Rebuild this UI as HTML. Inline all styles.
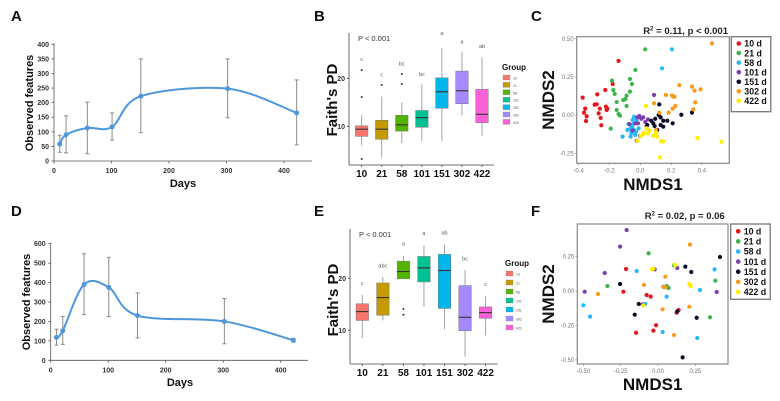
<!DOCTYPE html>
<html><head><meta charset="utf-8"><style>
html,body{margin:0;padding:0;background:#fff;}
svg{display:block;font-family:"Liberation Sans",Arial,sans-serif;}
</style></head><body>
<svg id="fig" width="780" height="401" viewBox="0 0 780 401" xmlns="http://www.w3.org/2000/svg">
<rect width="780" height="401" fill="#fff"/>
<g font-weight="bold" font-size="15" fill="#111">
<text x="11" y="21">A</text>
<text x="314" y="21">B</text>
<text x="531" y="21">C</text>
<text x="11" y="216">D</text>
<text x="314" y="216">E</text>
<text x="531" y="216">F</text>
</g>
</svg>
<script>
// ---------- data: line panels ----------
const daysA = [10, 21, 58, 101, 151, 302, 422];
const meanA = [58, 90, 113, 117, 222, 248, 165];
const lowA = [30, 28, 25, 72, 97, 148, 55];
const highA = [88, 155, 202, 165, 350, 350, 278];
const yTicksA = [0, 50, 100, 150, 200, 250, 300, 350, 400];
const xTicksA = [0, 100, 200, 300, 400];
const daysD = [10, 21, 58, 101, 151, 302, 422];
const meanD = [118, 152, 390, 375, 230, 200, 103];
const lowD = [78, 82, 235, 225, 115, 85, 93];
const highD = [160, 225, 548, 530, 347, 318, 113];
const yTicksD = [0, 100, 200, 300, 400, 500, 600];
const xTicksD = [0, 100, 200, 300, 400];
// ---------- data: box panels ----------
const groups = ["10", "21", "58", "101", "151", "302", "422"];
const boxColors = ["#F8766D", "#C49A00", "#53B400", "#00C094", "#00B6EB", "#A58AFF", "#FB61D7"];
const minB = [6.0, 3.5, 6.5, 6.9, 6.9, 12.3, 8.0];
const q1B = [7.9, 7.3, 9.0, 9.8, 13.75, 14.7, 10.75];
const medB = [9.4, 9.4, 10.3, 11.8, 17.2, 17.4, 12.5];
const q3B = [10.1, 11.25, 12.3, 13.3, 20.1, 21.5, 17.7];
const maxB = [12.4, 16.2, 15.0, 18.75, 26.25, 25.5, 24.4];
const outB = [[16.1, 21.7, 3.2], [18.6], [18.8, 20.9], [], [], [], []];
const letB = ["c", "c", "bc", "bc", "a", "a", "ab"];
const letPosB = [24.0, 20.8, 23.1, 20.9, 29.4, 27.7, 26.7];
const minE = [8.5, 11.9, 19.9, 14.5, 10.2, 4.9, 9.0];
const q1E = [11.9, 12.9, 19.9, 19.3, 14.2, 9.9, 12.3];
const medE = [13.6, 16.3, 21.3, 22.0, 21.5, 12.5, 13.4];
const q3E = [15.1, 19.1, 23.3, 24.2, 24.6, 18.6, 14.5];
const maxE = [16.8, 20.25, 24.3, 26.3, 26.5, 21.6, 16.6];
const outE = [[], [], [14.1, 13.0], [], [], [], []];
const letE = ["c", "abc", "a", "a", "ab", "bc", "c"];
const letPosE = [19.1, 22.5, 26.7, 28.7, 28.8, 23.8, 18.9];
// ---------- data: NMDS panels ----------
const nmdsGroups = ["10 d", "21 d", "58 d", "101 d", "151 d", "302 d", "422 d"];
const nmdsColors = ["#e8141b", "#3bb44a", "#27b8f5", "#7e3fb0", "#0c0c2a", "#f99a1d", "#ffee00"];
const c10x = [-0.374,-0.357,-0.365,-0.348,-0.352,-0.296,-0.283,-0.279,-0.270,-0.262,-0.257,-0.253,-0.227,-0.223,-0.218,-0.214,-0.179,-0.141];
const c10y = [0.115,0.043,0.017,-0.007,-0.038,0.069,0.071,0.136,0.012,0.043,-0.018,-0.066,0.165,0.056,0.034,0.043,0.204,0.355];
const c21x = [0.032,-0.032,-0.067,-0.054,-0.184,-0.175,-0.166,-0.153,-0.141,-0.132,-0.110,-0.097,-0.089,-0.067,-0.089,-0.153,-0.192];
const c21y = [0.431,0.296,0.237,0.204,0.226,0.165,0.139,0.086,0.008,-0.003,0.099,0.106,0.128,0.154,0.060,0.034,-0.088];
const c58x = [0.205,0.141,-0.115,-0.067,-0.054,-0.045,-0.037,-0.058,-0.032,-0.024,-0.076,-0.050,-0.041,-0.063,-0.028,-0.011,-0.084,-0.045,-0.058];
const c58y = [0.431,0.306,-0.140,-0.092,-0.075,-0.058,-0.101,-0.119,-0.129,-0.031,-0.058,-0.031,-0.010,-0.140,-0.108,-0.086,-0.097,-0.092,-0.075];
const c101x = [0.089,-0.019,-0.006,0.006,0.019,0.032,-0.015,-0.032,-0.071,-0.002,-0.024,-0.050,0.041,0.050];
const c101y = [0.132,-0.014,-0.005,-0.023,-0.014,-0.044,-0.053,-0.053,-0.058,-0.136,-0.167,-0.101,-0.071,-0.027];
const c151x = [0.123,0.119,0.132,0.097,0.071,0.084,0.045,0.093,0.149,0.175,0.210,0.149,0.266,0.335,0.110,0.132];
const c151y = [0.071,0.001,-0.014,-0.023,-0.036,-0.053,-0.064,-0.071,-0.036,-0.036,-0.053,-0.075,0.003,0.017,-0.097,-0.064];
const c302x = [0.465,0.253,0.335,0.352,0.391,0.356,0.344,0.166,0.205,0.214,0.227,0.210,0.123,0.184,0.102,0.089,0.222];
const c302y = [0.470,0.197,0.187,0.161,0.169,0.084,0.038,0.132,0.130,0.121,0.060,0.043,0.017,0.017,-0.097,0.078,0.121];
const c422x = [0.037,0.041,0.058,0.024,0.002,0.019,0.050,0.084,0.102,0.110,0.136,0.149,0.128,0.370,0.527,-0.019];
const c422y = [0.060,-0.086,-0.101,-0.114,-0.136,-0.123,-0.119,-0.134,-0.114,-0.140,-0.171,-0.171,-0.276,-0.149,-0.173,-0.167];
const f10x = [-0.214,-0.232,-0.076,-0.049,-0.147,-0.013,-0.031,0.125,0.138];
const f10y = [0.160,-0.005,-0.029,-0.041,-0.303,-0.249,-0.288,-0.157,-0.138];
const f21x = [-0.063,-0.339,0.036,0.071,0.107,0.384,0.348,0.058];
const f21y = [0.274,0.036,0.031,0.022,0.186,0.075,-0.191,0.036];
const f58x = [-0.143,-0.500,-0.455,0.058,-0.085,0.031,0.263,0.281,0.379];
const f58y = [0.145,-0.104,-0.186,-0.041,-0.094,-0.298,-0.341,0.007,0.157];
const f101x = [-0.210,-0.254,-0.357,-0.491,0.393,0.129,-0.022,-0.103];
const f101y = [0.443,0.322,0.131,-0.005,-0.007,0.167,0.157,-0.097];
const f151x = [-0.254,-0.129,-0.156,0.129,0.183,0.223,0.259,0.415,0.165];
const f151y = [0.051,-0.094,-0.172,-0.148,0.177,0.138,-0.194,0.247,-0.482];
const f302x = [0.214,-0.094,-0.402,0.049,0.049,0.031,0.107,0.210,0.040];
const f302y = [0.337,0.044,-0.022,0.104,0.027,-0.133,-0.320,-0.114,0.030];
const f422x = [-0.031,0.116,0.210,0.219,-0.098,-0.040,0.112];
const f422y = [0.162,0.186,0.051,0.036,-0.104,0.157,0.192];
const cTicksX = [-0.4, -0.2, 0.0, 0.2, 0.4];
const cTicksY = [-0.25, 0.00, 0.25, 0.50];
const fTicksX = [-0.50, -0.25, 0.00, 0.25];
const fTicksY = [-0.50, -0.25, 0.00, 0.25];

const NS = "http://www.w3.org/2000/svg";
const svg = document.getElementById("fig");
function mk(tag, attrs, parent) {
  const e = document.createElementNS(NS, tag);
  for (const k in attrs) e.setAttribute(k, attrs[k]);
  (parent || svg).appendChild(e);
  return e;
}
function txt(s, attrs, parent) { const t = mk("text", attrs, parent); t.textContent = s; return t; }
function lin(d0, d1, r0, r1) { return v => r0 + (v - d0) * (r1 - r0) / (d1 - d0); }
function catmull(pts) {
  let d = "M" + pts[0][0] + "," + pts[0][1];
  for (let i = 0; i < pts.length - 1; i++) {
    const p0 = pts[i - 1] || pts[i], p1 = pts[i], p2 = pts[i + 1], p3 = pts[i + 2] || p2;
    const c1 = [p1[0] + (p2[0] - p0[0]) / 6, p1[1] + (p2[1] - p0[1]) / 6];
    const c2 = [p2[0] - (p3[0] - p1[0]) / 6, p2[1] - (p3[1] - p1[1]) / 6];
    d += " C" + c1 + " " + c2 + " " + p2;
  }
  return d;
}

// ---------- line panels ----------
function linePanel(name, cfg, days, mean, low, high, yTicks, xTicks) {
  const g = mk("g", {});
  
  
  const x = lin(0, 400, cfg.x0, cfg.x400), y = lin(0, cfg.ymax, cfg.y0, cfg.ytop);
  mk("line", {x1: cfg.x0, y1: cfg.ytop - 1, x2: cfg.x0, y2: cfg.y0, stroke: "#555", "stroke-width": 0.8}, g);
  mk("line", {x1: cfg.x0, y1: cfg.y0, x2: cfg.xend, y2: cfg.y0, stroke: "#555", "stroke-width": 0.8}, g);
  yTicks.forEach(t => {
    mk("line", {x1: cfg.x0 - 2.5, y1: y(t), x2: cfg.x0, y2: y(t), stroke: "#555", "stroke-width": 0.8}, g);
    const l = txt(String(t), {x: cfg.x0 - 5, y: y(t) + 2.5, "font-size": 7, "font-weight": "bold", fill: "#333", "text-anchor": "end"}, g);
    
    
  });
  xTicks.forEach(t => {
    mk("line", {x1: x(t), y1: cfg.y0, x2: x(t), y2: cfg.y0 + 2.5, stroke: "#555", "stroke-width": 0.8}, g);
    const l = txt(String(t), {x: x(t), y: cfg.y0 + 12, "font-size": 7, "font-weight": "bold", fill: "#333", "text-anchor": "middle"}, g);
    
    
  });
  days.forEach((d, i) => {
    const eb = mk("g", {stroke: "#8a8a8a", "stroke-width": 1}, g);
    
    
    mk("line", {x1: x(d), y1: y(low[i]), x2: x(d), y2: y(high[i])}, eb);
    mk("line", {x1: x(d) - 2, y1: y(low[i]), x2: x(d) + 2, y2: y(low[i])}, eb);
    mk("line", {x1: x(d) - 2, y1: y(high[i]), x2: x(d) + 2, y2: y(high[i])}, eb);
  });
  const pts = days.map((d, i) => [x(d), y(mean[i])]);
  const p = mk("path", {d: catmull(pts), fill: "none", stroke: "#4f97dc", "stroke-width": 2}, g);
  
  
  pts.forEach(pt => {
    const c = mk("circle", {cx: pt[0], cy: pt[1], r: 2.5, fill: "#4f97dc"}, g);
    
    
  });
  const yt = txt("Observed features", {transform: "translate(" + cfg.ytx + "," + cfg.yty + ") rotate(-90)", "font-size": 11, "font-weight": "bold", fill: "#111", "text-anchor": "middle"}, g);
  
  
  const xt = txt("Days", {x: cfg.xtx, y: cfg.xty, "font-size": 11, "font-weight": "bold", fill: "#111", "text-anchor": "middle"}, g);
  
  
}
linePanel("line-chart-a", {x0: 54, x400: 284, xend: 312, y0: 161, ytop: 44.3, ymax: 400, ytx: 33, yty: 103, xtx: 183, xty: 187}, daysA, meanA, lowA, highA, yTicksA, xTicksA);
linePanel("line-chart-d", {x0: 50.7, x400: 280.7, xend: 308, y0: 360.3, ytop: 243.7, ymax: 600, ytx: 30, yty: 302, xtx: 180, xty: 386}, daysD, meanD, lowD, highD, yTicksD, xTicksD);

// ---------- box panels ----------
function boxPanel(name, cfg, mn, q1, md, q3, mx, outs, lets, letPos) {
  const g = mk("g", {});
  
  
  const y = lin(10, 20, cfg.y10, cfg.y20);
  const xc = i => cfg.xfirst + i * cfg.step;
  mk("line", {x1: cfg.xa, y1: cfg.ytop, x2: cfg.xa, y2: cfg.ybot, stroke: "#444", "stroke-width": 0.8}, g);
  mk("line", {x1: cfg.xa, y1: cfg.ybot, x2: cfg.xend, y2: cfg.ybot, stroke: "#444", "stroke-width": 0.8}, g);
  [10, 20].forEach(t => {
    mk("line", {x1: cfg.xa - 2, y1: y(t), x2: cfg.xa, y2: y(t), stroke: "#444", "stroke-width": 0.8}, g);
    const l = txt(String(t), {x: cfg.xa - 4, y: y(t) + 2.5, "font-size": 7, "font-weight": "bold", fill: "#333", "text-anchor": "end"}, g);
    
    
  });
  groups.forEach((gname, i) => {
    const cx = xc(i), w = 12.5;
    const b = mk("g", {}, g);
    
    
    mk("line", {x1: cx, y1: y(mn[i]), x2: cx, y2: y(mx[i]), stroke: "#9a9a9a", "stroke-width": 0.9}, b);
    mk("rect", {x: cx - w / 2, y: y(q3[i]), width: w, height: Math.max(0.5, y(q1[i]) - y(q3[i])), fill: boxColors[i], stroke: "#777", "stroke-width": 0.5}, b);
    mk("line", {x1: cx - w / 2, y1: y(md[i]), x2: cx + w / 2, y2: y(md[i]), stroke: "#333", "stroke-width": 1.1}, b);
    outs[i].forEach(o => mk("circle", {cx: cx, cy: y(o), r: 1, fill: "#333"}, b));
    const lt = txt(lets[i], {x: cx, y: y(letPos[i]) + 2, "font-size": 5.5, fill: "#555", "text-anchor": "middle"}, g);
    
    
    mk("line", {x1: cx, y1: cfg.ybot, x2: cx, y2: cfg.ybot + 2, stroke: "#444", "stroke-width": 0.8}, g);
    const xl = txt(gname, {x: cx, y: cfg.ybot + 12, "font-size": 10, "font-weight": "bold", fill: "#111", "text-anchor": "middle"}, g);
    
    
  });
  const pt = txt("P < 0.001", {x: cfg.xa + 9, y: cfg.ytop + 8, "font-size": 7.5, fill: "#333"}, g);
  
  
  const yt = txt("Faith's PD", {transform: "translate(" + (cfg.xa - 12) + "," + cfg.ytc + ") rotate(-90)", "font-size": 15, "font-weight": "bold", fill: "#111", "text-anchor": "middle"}, g);
  
  
  const lg = mk("g", {}, g);
  
  
  txt("Group", {x: cfg.lx, y: cfg.ly, "font-size": 8, "font-weight": "bold", fill: "#111"}, lg);
  groups.forEach((gname, i) => {
    const r = mk("rect", {x: cfg.lx + 1, y: cfg.ly + 5 + i * cfg.lstep, width: 7, height: 5, fill: boxColors[i], stroke: "#888", "stroke-width": 0.3}, lg);
    
    
    txt(gname, {x: cfg.lx + 11, y: cfg.ly + 9.5 + i * cfg.lstep, "font-size": 3.5, fill: "#555"}, lg);
  });
}
boxPanel("boxplot-b", {xa: 349, xend: 494, ytop: 33, ybot: 165, y10: 126.3, y20: 78.3, xfirst: 361.7, step: 20.05, ytc: 100, lx: 502, ly: 70, lstep: 7.4}, minB, q1B, medB, q3B, maxB, outB, letB, letPosB);
boxPanel("boxplot-e", {xa: 350, xend: 497.7, ytop: 229, ybot: 364, y10: 330.3, y20: 278.3, xfirst: 362.3, step: 20.55, ytc: 300, lx: 505, ly: 266, lstep: 9}, minE, q1E, medE, q3E, maxE, outE, letE, letPosE);

// ---------- NMDS panels ----------
function nmdsPanel(name, cfg, xs, ys, ticksX, ticksY, title, fmtX, fmtY) {
  const g = mk("g", {});
  
  
  const x = v => cfg.x0 + v * cfg.kx, y = v => cfg.y0 - v * cfg.ky;
  mk("rect", {x: cfg.bx, y: cfg.by, width: cfg.bw, height: cfg.bh, fill: "#fff", stroke: "#888", "stroke-width": 1.2}, g);
  ticksX.forEach(t => {
    mk("line", {x1: x(t), y1: cfg.by + cfg.bh, x2: x(t), y2: cfg.by + cfg.bh + 2, stroke: "#888", "stroke-width": 0.6}, g);
    const l = txt(t.toFixed(fmtX), {x: x(t), y: cfg.by + cfg.bh + 9, "font-size": 6, fill: "#777", "text-anchor": "middle"}, g);
    
    
  });
  ticksY.forEach(t => {
    mk("line", {x1: cfg.bx - 2, y1: y(t), x2: cfg.bx, y2: y(t), stroke: "#888", "stroke-width": 0.6}, g);
    const l = txt(t.toFixed(fmtY), {x: cfg.bx - 3, y: y(t) + 2, "font-size": 6, fill: "#777", "text-anchor": "end"}, g);
    
    
  });
  xs.forEach((arr, gi) => {
    arr.forEach((v, j) => {
      const c = mk("circle", {cx: x(v), cy: y(ys[gi][j]), r: 2.1, fill: nmdsColors[gi]}, g);
      
      
    });
  });
  const tt = mk("text", {x: cfg.tx, y: cfg.ty, "font-size": 9.5, "font-weight": "bold", fill: "#222", "text-anchor": "end"}, g);
  
  
  tt.innerHTML = 'R<tspan font-size="6" dy="-3.5">2</tspan><tspan dy="3.5"> = ' + title + '</tspan>';
  const yt = txt("NMDS2", {transform: "translate(" + cfg.ytx + "," + (cfg.by + cfg.bh / 2) + ") rotate(-90)", "font-size": 17, "font-weight": "bold", fill: "#111", "text-anchor": "middle"}, g);
  
  
  const xt = txt("NMDS1", {x: cfg.bx + cfg.bw / 2, y: cfg.xty, "font-size": 17, "font-weight": "bold", fill: "#111", "text-anchor": "middle"}, g);
  
  
  const lg = mk("g", {}, g);
  
  
  mk("rect", {x: cfg.lx, y: cfg.ly, width: 39.5, height: cfg.lh, fill: "#fff", stroke: "#777", "stroke-width": 1.3}, lg);
  nmdsGroups.forEach((n, i) => {
    const e = mk("g", {}, lg);
    
    
    mk("circle", {cx: cfg.lx + 7.5, cy: cfg.ly + cfg.lfirst + i * cfg.lstep, r: 2.3, fill: nmdsColors[i]}, e);
    txt(n, {x: cfg.lx + 13, y: cfg.ly + cfg.lfirst + i * cfg.lstep + 3.2, "font-size": 8.8, "font-weight": "bold", fill: "#111"}, e);
  });
}
nmdsPanel("nmds-c", {x0: 640.3, kx: 154.2, y0: 115.2, ky: 152.9, bx: 576.7, by: 36.7, bw: 152.6, bh: 126.6, tx: 728, ty: 34, ytx: 554, xty: 190, lx: 731.3, ly: 36.7, lh: 75, lfirst: 6.8, lstep: 9.56},
  [c10x, c21x, c58x, c101x, c151x, c302x, c422x], [c10y, c21y, c58y, c101y, c151y, c302y, c422y], cTicksX, cTicksY, "0.11, p < 0.001", 1, 2);
nmdsPanel("nmds-f", {x0: 658, kx: 149.3, y0: 291, ky: 137.7, bx: 577.3, by: 224, bw: 150.7, bh: 140, tx: 724.7, ty: 219, ytx: 554, xty: 390, lx: 730.7, ly: 224, lh: 75.3, lfirst: 7.3, lstep: 10.1},
  [f10x, f21x, f58x, f101x, f151x, f302x, f422x], [f10y, f21y, f58y, f101y, f151y, f302y, f422y], fTicksX, fTicksY, "0.02, p = 0.06", 2, 2);
</script>
</body></html>
